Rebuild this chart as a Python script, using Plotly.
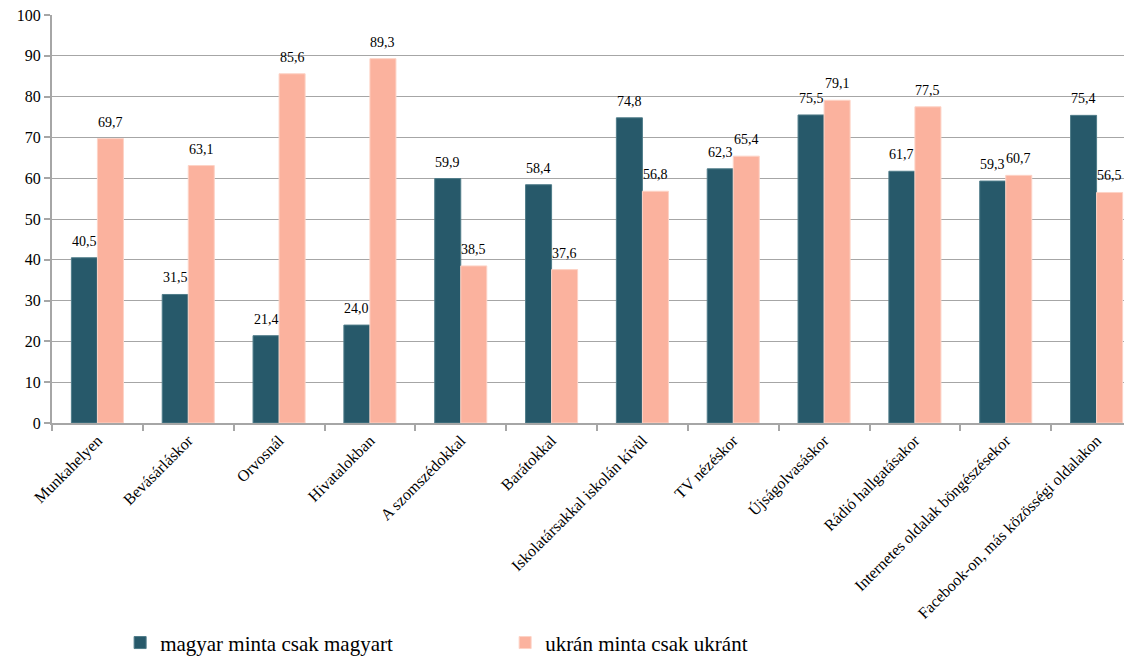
import plotly.graph_objects as go

categories = ["Munkahelyen", "Bevásárláskor", "Orvosnál", "Hivatalokban", "A szomszédokkal",
              "Barátokkal", "Iskolatársakkal iskolán kívül", "TV nézéskor", "Újságolvasáskor",
              "Rádió hallgatásakor", "Internetes oldalak böngészésekor",
              "Facebook-on, más közösségi oldalakon"]
magyar = [40.5, 31.5, 21.4, 24.0, 59.9, 58.4, 74.8, 62.3, 75.5, 61.7, 59.3, 75.4]
ukran = [69.7, 63.1, 85.6, 89.3, 38.5, 37.6, 56.8, 65.4, 79.1, 77.5, 60.7, 56.5]
series_names = ["magyar minta csak magyart", "ukrán minta csak ukránt"]
colors = ["#27596A", "#FBB29E"]
edge_colors = ["#4F7C89", "#FDD3C6"]

def fmt(v):
    return f"{v:.1f}".replace(".", ",")

FONT = "Liberation Serif, DejaVu Serif, serif"

fig = go.Figure()
for name, vals, col, ec in zip(series_names, [magyar, ukran], colors, edge_colors):
    fig.add_trace(go.Bar(
        x=categories, y=vals, name=name,
        marker=dict(color=col, line=dict(width=1, color=ec)),
    ))

# value labels above each bar (left bar shifted left, right bar shifted right)
for vals, shift in zip([magyar, ukran], [-13, 13]):
    for c, v in zip(categories, vals):
        fig.add_annotation(x=c, y=v, text=fmt(v), showarrow=False,
                           xshift=shift, yshift=7, yanchor="bottom",
                           font=dict(family=FONT, size=14, color="#000000"))

fig.update_layout(
    width=1134, height=648,
    margin=dict(l=44, r=0, t=7, b=233, autoexpand=False),
    paper_bgcolor="white", plot_bgcolor="white",
    barmode="group", bargap=0.427, bargroupgap=0,
    font=dict(family=FONT, color="#000000"),
    showlegend=True,
    legend=dict(orientation="h", x=0.0625, y=-0.539, xanchor="left", yanchor="middle",
                font=dict(family=FONT, size=21, color="#000000"),
                entrywidth=340, entrywidthmode="pixels", itemwidth=30),
)
fig.update_yaxes(range=[0, 100], dtick=10, showgrid=True, gridcolor="#A6A6A6", gridwidth=1.2,
                 showline=True, linecolor="#A6A6A6", linewidth=2,
                 ticks="outside", ticklen=6, tickcolor="#A6A6A6", tickwidth=2,
                 tickfont=dict(family=FONT, size=16, color="#000000"), zeroline=False,
                 ticklabeloverflow="allow", automargin=False)
fig.update_xaxes(showline=True, linecolor="#A6A6A6", linewidth=2,
                 ticks="outside", tickson="boundaries", ticklen=6, tickcolor="#A6A6A6", tickwidth=2,
                 tickangle=-45, tickfont=dict(family=FONT, size=16, color="#000000"),
                 automargin=False)

fig.write_html("out.html")
